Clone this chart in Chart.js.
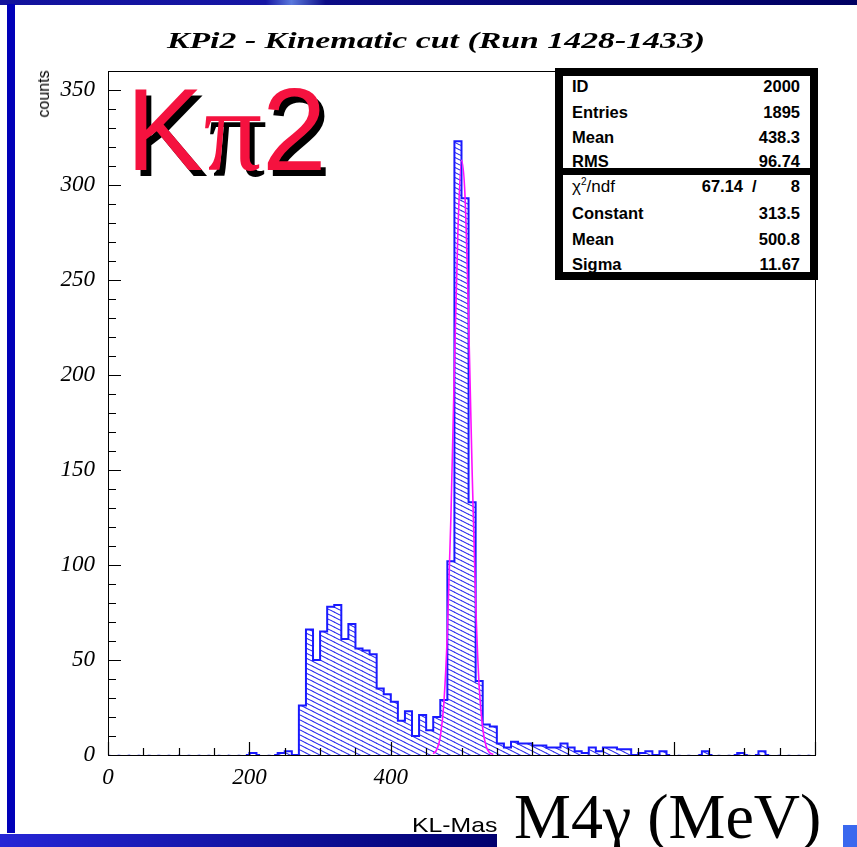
<!DOCTYPE html>
<html>
<head>
<meta charset="utf-8">
<title>KPi2 - Kinematic cut (Run 1428-1433)</title>
<script src="https://cdn.jsdelivr.net/npm/chart.js@4.4.1/dist/chart.umd.min.js"></script>
<style>
  html, body { margin: 0; padding: 0; background: #fff; }
  #page { position: relative; width: 857px; height: 847px; overflow: hidden; background: #fff; }
  #plot { position: absolute; left: 0; top: 0; }
  .abs { position: absolute; white-space: nowrap; line-height: 1; }
  .stat { font: bold 16.5px "Liberation Sans", Arial, sans-serif; color: #000; }
</style>
</head>
<body>
<div id="page">
  <canvas id="plot" width="857" height="847"></canvas>

  <!-- slide decoration -->
  <div class="abs" style="left:0;top:0;width:857px;height:5px;background:linear-gradient(to right,#12129c 0%,#1616a4 31%,#5a78dc 34%,#0c0c86 38%,#000062 100%);"></div>
  <div class="abs" style="left:7px;top:4px;width:8px;height:829px;background:#0000b8;"></div>
  <div class="abs" style="left:0;top:834px;width:497px;height:13px;background:linear-gradient(to right,#2626d6,#00006e);"></div>
  <div class="abs" style="left:843px;top:825px;width:14px;height:22px;background:#3a68ee;"></div>

  <!-- titles -->
  <div class="abs" style="left:436px;top:28px;font:italic bold 23px 'Liberation Serif',serif;transform:translateX(-50%) scaleX(1.47);">KPi2 - Kinematic cut (Run 1428-1433)</div>
  <div class="abs" style="left:44px;top:94px;font:16px 'Liberation Sans',Arial,sans-serif;transform:translate(-50%,-50%) rotate(-90deg);">counts</div>
  <div class="abs" style="left:412px;top:813px;font:21px 'Liberation Sans',Arial,sans-serif;transform:scaleX(1.18);transform-origin:left top;">KL-Mas</div>
  <div class="abs" style="left:514px;top:780px;font:64px 'Liberation Serif',serif;color:#000;">M4γ (MeV)</div>
  <div class="abs" style="left:126px;top:63px;font:116px 'Liberation Sans',Arial,sans-serif;color:#f5123f;text-shadow:5px 6px 0 #000;">K<span style="font-family:'Liberation Serif',serif;">π</span>2</div>

  <!-- statistics box -->
  <div class="abs" style="left:555px;top:68px;width:263px;height:212px;box-sizing:border-box;border:8px solid #000;background:#fff;"></div>
  <div class="abs" style="left:555px;top:168px;width:263px;height:7px;background:#000;"></div>
  <div class="abs stat" style="left:572px;top:77px;">ID</div>
  <div class="abs stat" style="right:57px;top:77px;">2000</div>
  <div class="abs stat" style="left:572px;top:103px;">Entries</div>
  <div class="abs stat" style="right:57px;top:103px;">1895</div>
  <div class="abs stat" style="left:572px;top:128px;">Mean</div>
  <div class="abs stat" style="right:57px;top:128px;">438.3</div>
  <div class="abs stat" style="left:572px;top:152px;">RMS</div>
  <div class="abs stat" style="right:57px;top:152px;">96.74</div>
  <div class="abs" style="left:572px;top:177px;font:17px 'Liberation Sans',Arial,sans-serif;">χ<span style="position:relative;top:-7px;font-size:10px;">2</span>/ndf</div>
  <div class="abs stat" style="right:114px;top:177px;">67.14</div>
  <div class="abs stat" style="left:752px;top:177px;">/</div>
  <div class="abs stat" style="right:57px;top:177px;">8</div>
  <div class="abs stat" style="left:572px;top:204px;">Constant</div>
  <div class="abs stat" style="right:57px;top:204px;">313.5</div>
  <div class="abs stat" style="left:572px;top:230px;">Mean</div>
  <div class="abs stat" style="right:57px;top:230px;">500.8</div>
  <div class="abs stat" style="left:572px;top:255px;">Sigma</div>
  <div class="abs stat" style="right:57px;top:255px;">11.67</div>
</div>

<script>
// histogram: 100 bins of 10 MeV from 0 to 1000, counts per bin
const binWidth = 10;
const binLowEdges = Array.from({ length: 100 }, (_, i) => i * binWidth);
const counts = [
  0, 0, 0, 0, 0, 0, 0, 0, 0, 0,          // 0 - 100
  0, 0, 0, 0, 0, 0, 0, 0, 0, 0,          // 100 - 200
  1, 0, 0, 0, 1, 2, 0, 26, 66, 50,       // 200 - 300
  65, 78, 79, 61, 69, 56, 55, 53, 35, 32, // 300 - 400
  28, 18, 23, 10, 21, 13, 20, 29, 102, 323, // 400 - 500
  293, 133, 39, 16, 15, 6, 4, 7, 6, 6,   // 500 - 600
  5, 5, 4, 4, 6, 4, 2, 1, 4, 2,          // 600 - 700
  4, 4, 3, 3, 0, 1, 2, 0, 2, 0,          // 700 - 800
  0, 0, 0, 0, 2, 0, 0, 0, 0, 1,          // 800 - 900
  0, 0, 2, 0, 0, 0, 0, 0, 0, 0           // 900 - 1000
];

// gaussian fit as drawn (magenta)
const fitX = [460, 465, 470, 475, 480, 485, 490, 495, 500, 505, 510, 515, 520, 525, 530, 535, 540, 545];
const fitY = [0.7, 2.8, 9.6, 27, 64, 125, 204, 277, 313, 294, 230, 150, 81, 36, 14, 4.3, 1.1, 0.3];

// axes
const xMin = 0, xMax = 1000, xMajorStep = 200, xMinorStep = 50;
const yMin = 0, yMax = 360, yMajorStep = 50, yMinorStep = 10;
const xTickValues = [0, 200, 400];
const yTickValues = [0, 50, 100, 150, 200, 250, 300, 350];

const tickFont = { family: "'Liberation Serif', serif", style: 'italic', size: 23 };

function makeHatch(ctx) {
    var tile = document.createElement('canvas');
    tile.width = 10;
    tile.height = 5;
    var g = tile.getContext('2d');
    g.strokeStyle = '#2424ee';
    g.lineWidth = 1.1;
    [-5, 0, 5].forEach(dy => {
        g.beginPath();
        g.moveTo(0, dy);
        g.lineTo(10, dy + 5);
        g.stroke();
    });
    return ctx.createPattern(tile, 'repeat');
}

// frame, axis lines and inside ticks like the PAW plot
const axisFrame = {
    id: 'axisFrame',
    afterDatasetsDraw(chart) {
        const ctx = chart.ctx;
        const a = chart.chartArea;
        const x = chart.scales.x;
        const y = chart.scales.y;
        ctx.save();
        ctx.strokeStyle = '#000';
        ctx.lineWidth = 1;
        ctx.strokeRect(Math.round(a.left) + 0.5, Math.round(a.top) + 0.5,
            Math.round(a.right - a.left), Math.round(a.bottom - a.top));
        ctx.lineWidth = 1.2;
        ctx.beginPath();
        for (let v = xMin; v <= xMax; v += xMinorStep) {
            const px = Math.round(x.getPixelForValue(v)) + 0.5;
            const len = v % xMajorStep === 0 ? 13 : 7;
            ctx.moveTo(px, a.bottom);
            ctx.lineTo(px, a.bottom - len);
        }
        for (let v = yMin; v < yMax; v += yMinorStep) {
            const py = Math.round(y.getPixelForValue(v)) + 0.5;
            const len = v % yMajorStep === 0 ? 13 : 8;
            ctx.moveTo(a.left, py);
            ctx.lineTo(a.left + len, py);
        }
        ctx.stroke();
        ctx.restore();
    }
};

const canvas = document.getElementById('plot');
const ctx = canvas.getContext('2d');

const histPoints = binLowEdges.map((lo, i) => ({ x: lo + binWidth / 2, y: counts[i] }));
const fitPoints = fitX.map((v, i) => ({ x: v, y: fitY[i] }));

new Chart(ctx, {
    type: 'bar',
    data: {
        datasets: [
            {
                type: 'line', data: fitPoints, borderColor: '#ff10ff', borderWidth: 1.6,
                pointRadius: 0, cubicInterpolationMode: 'monotone', order: 0
            },
            {
                type: 'line', data: histPoints, borderColor: '#1a1aff', borderWidth: 2,
                pointRadius: 0, stepped: 'middle', order: 1,
                segment: {
                    borderColor: c => (c.p0.parsed.y === 0 && c.p1.parsed.y === 0) ? 'rgba(0,0,0,0)' : undefined
                }
            },
            {
                type: 'bar', data: histPoints, backgroundColor: makeHatch(ctx), borderWidth: 0,
                barPercentage: 1, categoryPercentage: 1, order: 2
            }
        ]
    },
    options: {
        responsive: false,
        animation: false,
        devicePixelRatio: 1,
        events: [],
        layout: { padding: { left: 57, top: 71, right: 42, bottom: 0 } },
        plugins: { legend: { display: false }, tooltip: { enabled: false }, title: { display: false } },
        scales: {
            x: {
                type: 'linear', min: xMin, max: xMax, offset: false,
                border: { display: false },
                grid: { display: false, drawTicks: false, offset: false },
                afterBuildTicks: s => { s.ticks = xTickValues.map(v => ({ value: v })); },
                afterFit: s => { s.height = 92; },
                ticks: { font: tickFont, color: '#000', padding: 9, maxRotation: 0, autoSkip: false }
            },
            y: {
                type: 'linear', min: yMin, max: yMax,
                border: { display: false },
                grid: { display: false, drawTicks: false },
                afterBuildTicks: s => { s.ticks = yTickValues.map(v => ({ value: v })); },
                afterFit: s => { s.width = 51; },
                ticks: { font: tickFont, color: '#000', padding: 13, autoSkip: false }
            }
        }
    },
    plugins: [axisFrame]
});
</script>
</body>
</html>
